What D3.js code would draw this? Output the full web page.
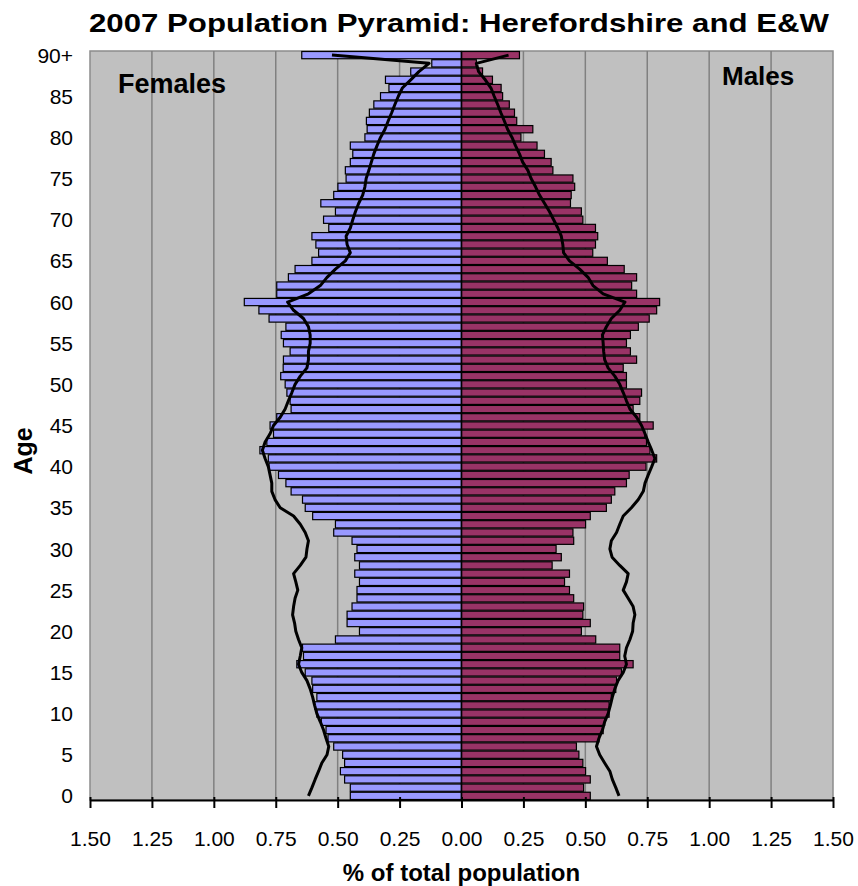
<!DOCTYPE html>
<meta charset="utf-8">
<style>
body { margin: 0; background: #fff; }
svg { font-family: Arial, "Liberation Sans", sans-serif; }
.tick text { font-size: 21px; fill: #000; }
</style>
<svg width="858" height="886"></svg>
<script src="https://d3js.org/d3.v7.min.js"></script>
<script>

// ages 0..90 (90 = 90+), % of total population
var ages = d3.range(0, 91);
var ageLabels = ["0","5","10","15","20","25","30","35","40","45","50","55","60","65","70","75","80","85","90+"];
var xTicks = [-1.5,-1.25,-1,-0.75,-0.5,-0.25,0,0.25,0.5,0.75,1,1.25,1.5];

// Herefordshire females, age 0 first
var females = [
  0.449,0.449,0.472,0.489,0.472,0.480,0.516,0.539,0.547,0.566,
  0.584,0.593,0.584,0.601,0.604,0.631,0.665,0.638,0.642,0.509,
  0.412,0.462,0.462,0.442,0.422,0.422,0.412,0.431,0.412,0.431,
  0.422,0.442,0.516,0.509,0.601,0.631,0.642,0.688,0.709,0.739,
  0.777,0.780,0.814,0.786,0.759,0.773,0.746,0.688,0.692,0.705,
  0.712,0.730,0.720,0.719,0.692,0.719,0.728,0.709,0.777,0.818,
  0.877,0.746,0.746,0.699,0.672,0.604,0.577,0.588,0.604,0.536,
  0.557,0.509,0.568,0.516,0.499,0.466,0.469,0.449,0.439,0.449,
  0.390,0.381,0.384,0.372,0.354,0.327,0.293,0.307,0.205,0.120,
  0.645
];

// Herefordshire males
var males = [
  0.520,0.493,0.520,0.501,0.490,0.474,0.464,0.555,0.572,0.578,
  0.596,0.596,0.605,0.623,0.626,0.646,0.693,0.639,0.639,0.542,
  0.484,0.520,0.490,0.493,0.453,0.436,0.416,0.436,0.366,0.403,
  0.382,0.453,0.450,0.501,0.520,0.585,0.605,0.619,0.666,0.677,
  0.745,0.788,0.761,0.747,0.740,0.774,0.720,0.693,0.720,0.727,
  0.666,0.666,0.653,0.707,0.682,0.666,0.682,0.714,0.758,0.788,
  0.800,0.707,0.687,0.707,0.657,0.589,0.530,0.541,0.550,0.541,
  0.490,0.484,0.440,0.443,0.457,0.450,0.369,0.362,0.335,0.305,
  0.240,0.288,0.223,0.214,0.193,0.166,0.160,0.125,0.085,0.060,
  0.234
];

// England & Wales females (line)
var ewFemales = [
  0.618,0.604,0.591,0.577,0.564,0.543,0.536,0.547,0.557,0.570,
  0.584,0.593,0.601,0.611,0.624,0.645,0.658,0.651,0.645,0.658,
  0.669,0.674,0.682,0.678,0.672,0.661,0.669,0.678,0.651,0.628,
  0.624,0.618,0.631,0.651,0.678,0.732,0.753,0.766,0.766,0.773,
  0.780,0.793,0.804,0.793,0.773,0.759,0.732,0.712,0.699,0.685,
  0.672,0.651,0.624,0.618,0.618,0.611,0.611,0.618,0.638,0.678,
  0.702,0.618,0.570,0.543,0.509,0.469,0.449,0.462,0.466,0.449,
  0.439,0.428,0.415,0.399,0.390,0.385,0.374,0.364,0.354,0.341,
  0.327,0.309,0.296,0.282,0.269,0.255,0.239,0.205,0.172,0.131,
  0.523
];

// England & Wales males (line)
var ewMales = [
  0.636,0.623,0.609,0.599,0.578,0.558,0.545,0.555,0.569,0.578,
  0.592,0.601,0.609,0.619,0.632,0.653,0.666,0.659,0.666,0.680,
  0.691,0.693,0.700,0.693,0.673,0.653,0.666,0.673,0.639,0.608,
  0.599,0.605,0.626,0.639,0.653,0.686,0.714,0.734,0.741,0.754,
  0.768,0.781,0.768,0.754,0.741,0.727,0.707,0.680,0.666,0.653,
  0.639,0.619,0.592,0.578,0.574,0.572,0.569,0.585,0.605,0.639,
  0.660,0.572,0.531,0.511,0.477,0.436,0.412,0.409,0.403,0.389,
  0.372,0.355,0.335,0.315,0.299,0.281,0.268,0.247,0.234,0.218,
  0.204,0.186,0.173,0.159,0.146,0.132,0.119,0.096,0.069,0.060,
  0.190
];

var svg = d3.select("svg");

var plotLeft = 90, plotRight = 833, plotTop = 51, plotBottom = 800;

var x = d3.scaleLinear().domain([-1.5, 1.5]).range([plotLeft, plotRight]);
var y = d3.scaleBand().domain(ages).range([plotBottom, plotTop]).paddingInner(0.12).paddingOuter(0.06);
var yc = function(a) { return y(a) + y.bandwidth() / 2; };

// plot area
svg.append("rect")
  .attr("x", plotLeft).attr("y", plotTop)
  .attr("width", plotRight - plotLeft).attr("height", plotBottom - plotTop)
  .style("fill", "#c0c0c0")
  .style("stroke", "#8c8c8c")
  .style("stroke-width", 1.5);

// vertical grid lines
svg.append("g").selectAll("line")
  .data(xTicks.filter(function(d) { return d !== 0 && Math.abs(d) !== 1.5; }))
  .enter().append("line")
  .attr("x1", function(d) { return x(d); })
  .attr("x2", function(d) { return x(d); })
  .attr("y1", plotTop).attr("y2", plotBottom)
  .style("stroke", "#808080")
  .style("stroke-width", 1.5);

// bars
svg.append("g").selectAll("rect")
  .data(ages)
  .enter().append("rect")
  .attr("x", function(a) { return x(-females[a]); })
  .attr("y", function(a) { return y(a); })
  .attr("width", function(a) { return x(0) - x(-females[a]); })
  .attr("height", y.bandwidth())
  .style("fill", "#9999ff")
  .style("stroke", "#000")
  .style("stroke-width", 1.2);

svg.append("g").selectAll("rect")
  .data(ages)
  .enter().append("rect")
  .attr("x", x(0))
  .attr("y", function(a) { return y(a); })
  .attr("width", function(a) { return x(males[a]) - x(0); })
  .attr("height", y.bandwidth())
  .style("fill", "#993366")
  .style("stroke", "#000")
  .style("stroke-width", 1.2);

// E&W lines
var lineF = d3.line()
  .x(function(a) { return x(-ewFemales[a]); })
  .y(function(a) { return yc(a); });
var lineM = d3.line()
  .x(function(a) { return x(ewMales[a]); })
  .y(function(a) { return yc(a); });

svg.append("path").datum(ages).attr("d", lineF)
  .style("fill", "none").style("stroke", "#000").style("stroke-width", 3).style("stroke-linejoin", "round");
svg.append("path").datum(ages).attr("d", lineM)
  .style("fill", "none").style("stroke", "#000").style("stroke-width", 3).style("stroke-linejoin", "round");

// centre line
svg.append("line")
  .attr("x1", x(0)).attr("x2", x(0))
  .attr("y1", plotTop).attr("y2", plotBottom)
  .style("stroke", "#000").style("stroke-width", 1.5);

// x axis
var xAxis = d3.axisBottom(x)
  .tickValues(xTicks)
  .tickFormat(function(d) { return Math.abs(d).toFixed(2); })
  .tickSizeInner(8).tickSizeOuter(0).tickPadding(23);

var gx = svg.append("g")
  .attr("transform", "translate(0," + plotBottom + ")")
  .call(xAxis);
gx.select(".domain").style("stroke", "#000").style("stroke-width", 2);
gx.selectAll(".tick line").style("stroke", "#000").style("stroke-width", 2).attr("y1", -3);

// y axis labels
var yAxis = d3.axisLeft(y)
  .tickValues(d3.range(0, 91, 5))
  .tickFormat(function(d, i) { return ageLabels[i]; })
  .tickSize(0).tickPadding(17);

var gy = svg.append("g")
  .attr("transform", "translate(" + plotLeft + ",0)")
  .call(yAxis);
gy.select(".domain").remove();
gy.selectAll(".tick text").attr("dy", "0.36em");

// titles
svg.append("text")
  .attr("x", plotLeft - 1).attr("y", 32)
  .attr("textLength", 740).attr("lengthAdjust", "spacingAndGlyphs")
  .style("font-size", "25px").style("font-weight", "bold")
  .text("2007 Population Pyramid: Herefordshire and E&W");

svg.append("text")
  .attr("x", 118).attr("y", 93)
  .style("font-size", "27px").style("font-weight", "bold")
  .text("Females");

svg.append("text")
  .attr("x", 722).attr("y", 85)
  .style("font-size", "26px").style("font-weight", "bold")
  .text("Males");

svg.append("text")
  .attr("x", x(0)).attr("y", 881)
  .attr("text-anchor", "middle")
  .style("font-size", "24px").style("font-weight", "bold")
  .text("% of total population");

svg.append("text")
  .attr("transform", "translate(32,451) rotate(-90)")
  .attr("text-anchor", "middle")
  .style("font-size", "25px").style("font-weight", "bold")
  .text("Age");

</script>
